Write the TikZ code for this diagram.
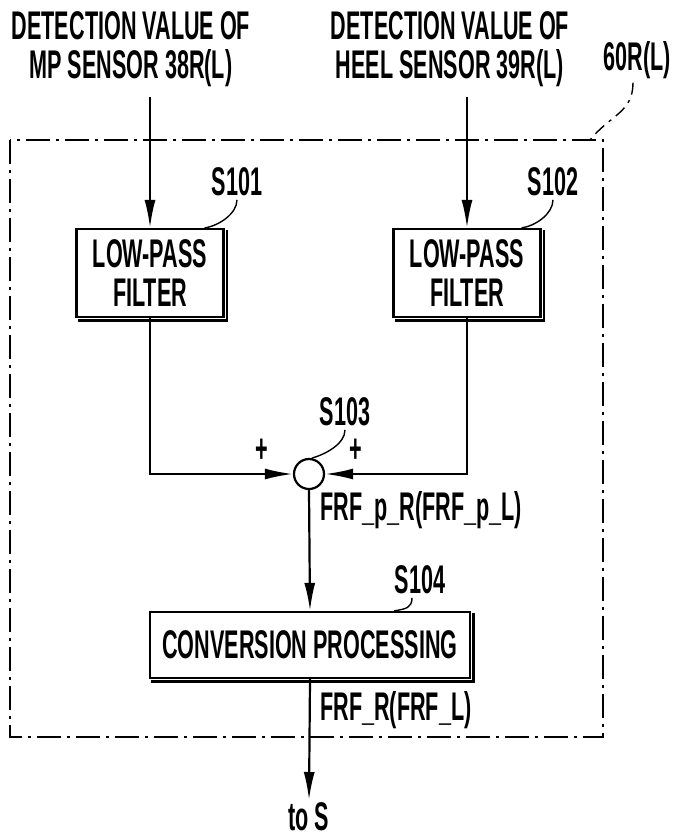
\documentclass[tikz,border=0pt]{standalone}
\usepackage{fontspec}
\setmainfont[FakeStretch=0.54]{Liberation Sans}
\usetikzlibrary{arrows.meta, positioning, calc}

\begin{document}
\begin{tikzpicture}[x=0.5pt,y=-0.5pt,>={Latex[length=14pt,width=5.5pt]},font=\fontsize{20}{19.5}\selectfont\bfseries,block/.style={rectangle,draw,line width=1.1pt,inner sep=0pt,align=center},filterbox/.style={block,minimum width=73.5pt,minimum height=44pt},label/.style={inner sep=0pt,anchor=base},leader/.style={line width=0.7pt},dashdot/.style={line width=0.7pt,dash pattern=on 12pt off 3pt on 1.5pt off 3pt}]
\useasboundingbox (0,0) rectangle (676,836);
\draw[dashdot] (10,140) rectangle (603,737);
\node[label,align=center] (mptext) at (131,78) {DETECTION VALUE OF\\MP SENSOR 38R(L)};
\node[label,align=center] (heeltext) at (450,78) {DETECTION VALUE OF\\HEEL SENSOR 39R(L)};
\node[label] (unit) at (637,70) {60R(L)};
\coordinate (mpin) at (150,97);
\coordinate (heelin) at (467,97);
\node[filterbox] (lpf1) at (150,273) {LOW-PASS\\FILTER};
\node[filterbox] (lpf2) at (467,273) {LOW-PASS\\FILTER};
\node[circle,draw,line width=1.1pt,minimum size=15pt,inner sep=0pt] (sum) at (309,474) {};
\node[block,minimum width=160pt,minimum height=33pt] (conv) at (310,645) {CONVERSION PROCESSING};
\coordinate (out) at (309,800);
\node[label] (s101) at (237,195) {S101};
\node[label] (s102) at (553,195) {S102};
\node[label] (s103) at (345,425) {S103};
\node[label] (s104) at (420,593) {S104};
\node[label] (plusl) at (262,462) {+};
\node[label] (plusr) at (356,462) {+};
\node[label,anchor=base west] (frfp) at (320,520) {FRF\_p\_R(FRF\_p\_L)};
\node[label,anchor=base west] (frf) at (320,720) {FRF\_R(FRF\_L)};
\node[label] (tos) at (309,830) {to S};
\foreach \b in {lpf1,lpf2,conv}
  \draw[line width=1.1pt] ([shift={(1.2pt,-1.2pt)}]\b.north east) -- ([shift={(1.2pt,-1.2pt)}]\b.south east) -- ([shift={(1.2pt,-1.2pt)}]\b.south west);
\draw[->,line width=1.1pt] (mpin) -- (lpf1.north);
\draw[->,line width=1.1pt] (heelin) -- (lpf2.north);
\draw[->,line width=1.1pt] (lpf1.south) |- (sum.west);
\draw[->,line width=1.1pt] (lpf2.south) |- (sum.east);
\draw[->,line width=1.1pt] (sum.south) -- (conv.north);
\draw[->,line width=1.1pt] (conv.south) -- (out);
\draw[leader] ([yshift=-2pt]s101.south) .. controls +(0,14) and +(14,-2) .. ([xshift=-10pt]lpf1.north east);
\draw[leader] ([yshift=-2pt]s102.south) .. controls +(0,14) and +(14,-2) .. ([xshift=-10pt]lpf2.north east);
\draw[leader] ([yshift=-2pt]s103.south) .. controls +(0,14) and +(14,-4) .. (sum.80);
\draw[leader] ([shift={(-4pt,-2pt)}]s104.south) .. controls +(0,10) and +(12,-2) .. ([xshift=-38.5pt]conv.north east);
\draw[dashdot,dash pattern=on 6pt off 3pt on 1.5pt off 3pt] ([shift={(-2pt,-2pt)}]unit.south) .. controls +(0,30) and +(20,-25) .. (590,140);
\end{tikzpicture}
\end{document}
